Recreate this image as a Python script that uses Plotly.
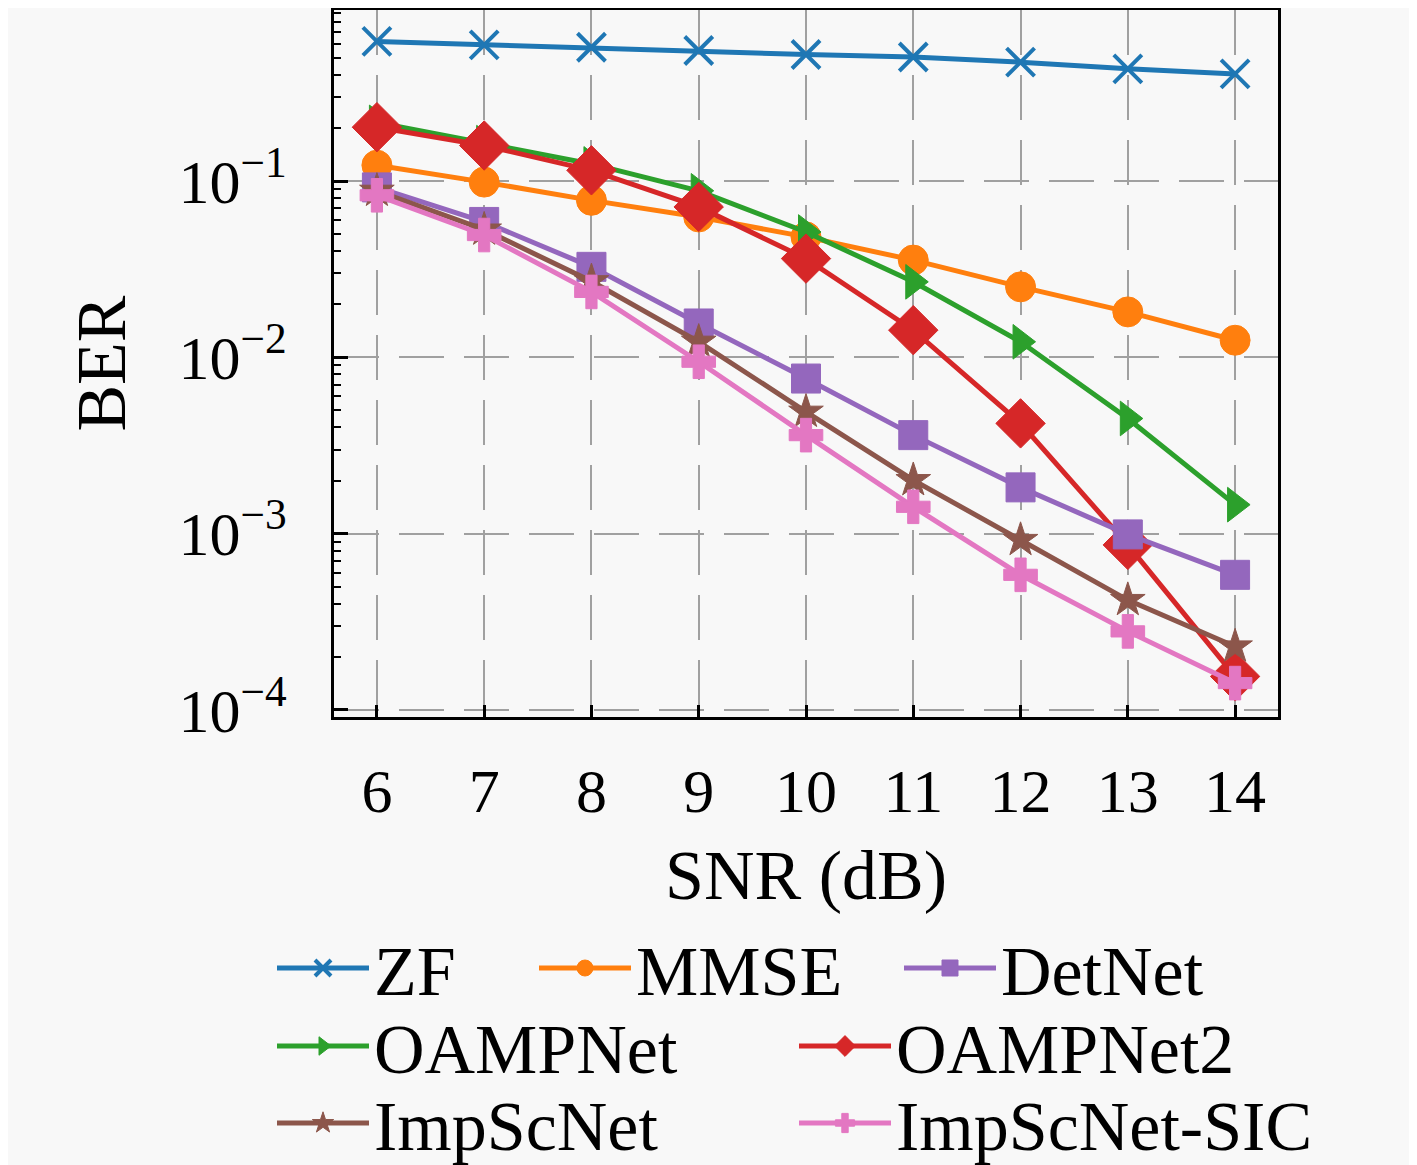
import plotly.graph_objects as go

# SNR points and BER curves
snr = [6, 7, 8, 9, 10, 11, 12, 13, 14]
ber_zf = [0.619, 0.592, 0.574, 0.55, 0.522, 0.505, 0.472, 0.433, 0.405]
ber_mmse = [0.123, 0.0986, 0.0777, 0.0625, 0.0482, 0.0356, 0.0251, 0.0181, 0.0125]
ber_detnet = [0.092, 0.0586, 0.0326, 0.01556, 0.00758, 0.00362, 0.00183, 0.00099, 0.000584]
ber_oampnet = [0.215, 0.165, 0.125, 0.088, 0.0514, 0.0268, 0.01225, 0.0045, 0.00146]
ber_oampnet2 = [0.202, 0.159, 0.115, 0.0713, 0.0363, 0.01426, 0.00422, 0.000863, 0.000155]
ber_impscnet = [0.088, 0.053, 0.027, 0.01225, 0.00491, 0.00201, 0.00092, 0.00042, 0.000229]
ber_sic = [0.083, 0.0494, 0.0235, 0.00944, 0.00362, 0.00142, 0.000584, 0.000279, 0.000142]

y_ticks = [1e-4, 1e-3, 1e-2, 1e-1]
y_labels = ["10<sup>\u22124</sup>", "10<sup>\u22123</sup>", "10<sup>\u22122</sup>", "10<sup>\u22121</sup>"]

FONT = "Liberation Serif"
W, H = 1417, 1165
bg = "#f8f8f8"

# name, values, color, symbol, size, legend id, legend pos (px, px)
series = [
    ("ZF", ber_zf, "#1f77b4", "x-thin", 28, "legend", (264, 960)),
    ("MMSE", ber_mmse, "#ff7f0e", "circle", 30, "legend2", (526, 960)),
    ("OAMPNet", ber_oampnet, "#2ca02c", "triangle-right", 30, "legend4", (264, 1038)),
    ("OAMPNet2", ber_oampnet2, "#d62728", "diamond", 38, "legend5", (786, 1038)),
    ("DetNet", ber_detnet, "#9467bd", "square", 29, "legend3", (891, 960)),
    ("ImpScNet", ber_impscnet, "#8c564b", "star", 26, "legend6", (264, 1115)),
    ("ImpScNet-SIC", ber_sic, "#e377c2", "cross", 28, "legend7", (786, 1115)),
]

fig = go.Figure()
legends = {}
for name, vals, col, sym, size, leg, pos in series:
    marker = dict(color=col, size=size, symbol=sym)
    if sym == "x-thin":
        marker["line"] = dict(color=col, width=4)
    else:
        marker["line"] = dict(color=col, width=1)
    fig.add_trace(go.Scatter(
        x=snr, y=vals, name=name, mode="lines+markers",
        line=dict(color=col, width=5), marker=marker, legend=leg,
    ))
    legends[leg] = dict(
        x=pos[0] / W, y=1 - pos[1] / H, xref="container", yref="container",
        xanchor="left", yanchor="middle", orientation="h",
        bgcolor="rgba(0,0,0,0)", itemwidth=92,
        font=dict(family=FONT, size=70, color="black"),
    )

fig.update_layout(
    width=W, height=H,
    margin=dict(l=326, r=147, t=2, b=456),
    paper_bgcolor=bg, plot_bgcolor=bg,
    font=dict(family=FONT, color="black"),
    showlegend=True,
    **legends,
)

fig.update_xaxes(
    range=[5.6, 14.4], tickvals=snr, automargin=False,
    showline=True, linecolor="black", linewidth=3, mirror=True,
    ticks="inside", ticklen=12, tickwidth=3, tickcolor="black",
    tickfont=dict(family=FONT, size=62), ticklabelstandoff=18,
    showgrid=True, gridcolor="#a0a0a0", gridwidth=2, griddash="45px,20px",
    zeroline=False,
    title=dict(text="SNR (dB)", font=dict(family=FONT, size=70), standoff=26),
)
fig.update_yaxes(
    type="log", range=[-4.04, -0.03], tickvals=y_ticks, ticktext=y_labels,
    automargin=False,
    showline=True, linecolor="black", linewidth=3, mirror=True,
    ticks="inside", ticklen=14, tickwidth=3, tickcolor="black",
    minor=dict(ticks="inside", dtick="D1", ticklen=7, tickwidth=2,
               tickcolor="black", showgrid=False),
    tickfont=dict(family=FONT, size=62), ticklabelstandoff=32,
    showgrid=True, gridcolor="#a0a0a0", gridwidth=2, griddash="45px,20px",
    zeroline=False,
    title=dict(text="BER", font=dict(family=FONT, size=70), standoff=30),
)

fig.write_html("out.html")
